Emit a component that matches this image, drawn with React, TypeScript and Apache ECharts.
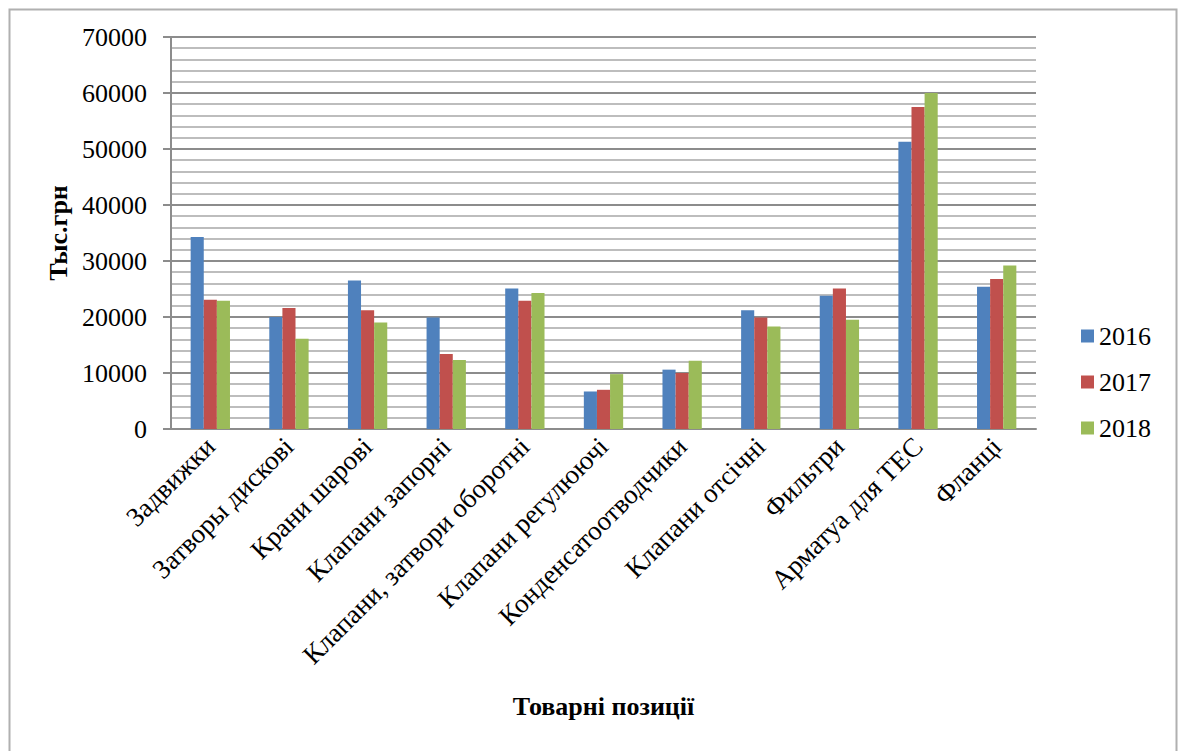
import React, { useEffect, useRef } from "react";
import * as echarts from "echarts";

const categories = [
  "Задвижки",
  "Затворы дискові",
  "Крани шарові",
  "Клапани запорні",
  "Клапани, затвори оборотні",
  "Клапани регулюючі",
  "Конденсатоотводчики",
  "Клапани отсічні",
  "Фильтри",
  "Арматуа для ТЕС",
  "Фланці",
];

const values2016 = [34300, 20000, 26500, 19900, 25100, 6700, 10600, 21200, 23800, 51300, 25400];
const values2017 = [23100, 21600, 21200, 13400, 22900, 7000, 10000, 19900, 25100, 57500, 26800];
const values2018 = [22900, 16100, 19000, 12300, 24300, 9800, 12200, 18300, 19500, 60000, 29200];

const seriesNames = ["2016", "2017", "2018"];
const seriesColors = ["#4F81BD", "#C0504D", "#9BBB59"];

const FONT = "Liberation Serif";

export default function App() {
  const ref = useRef<HTMLDivElement>(null);

  useEffect(() => {
    if (!ref.current) return;
    const chart = echarts.init(ref.current, null, { renderer: "svg" });
    const data = [values2016, values2017, values2018];
    chart.setOption({
      animation: false,
      backgroundColor: "#ffffff",
      textStyle: { fontFamily: FONT, color: "#000" },
      graphic: [
        {
          type: "rect",
          shape: { x: 9.5, y: 9.5, width: 1167, height: 760 },
          style: { fill: "none", stroke: "#b0b0b0", lineWidth: 2 },
          silent: true,
        },
      ],
      grid: { left: 171, right: 148, top: 37, bottom: 322, containLabel: false },
      legend: {
        orient: "vertical",
        left: 1076,
        top: 318,
        itemWidth: 13,
        itemHeight: 13,
        itemGap: 20,
        icon: "rect",
        textStyle: { fontFamily: FONT, fontSize: 26, color: "#000" },
        data: seriesNames,
      },
      xAxis: {
        type: "category",
        data: categories,
        name: "Товарні позиції",
        nameLocation: "middle",
        nameGap: 264,
        nameTextStyle: { fontFamily: FONT, fontSize: 26, fontWeight: "bold", color: "#000" },
        axisLine: { lineStyle: { color: "#8c8c8c", width: 2 } },
        axisTick: { show: false },
        axisLabel: {
          interval: 0,
          rotate: 45,
          margin: 13,
          fontFamily: FONT,
          fontSize: 27,
          color: "#000",
        },
      },
      yAxis: {
        type: "value",
        min: 0,
        max: 70000,
        interval: 10000,
        name: "Тыс.грн",
        nameLocation: "middle",
        nameGap: 100,
        nameTextStyle: { fontFamily: FONT, fontSize: 26, fontWeight: "bold", color: "#000" },
        axisLine: { show: true, lineStyle: { color: "#8c8c8c", width: 2 } },
        axisTick: { show: true, inside: false, length: 8, lineStyle: { color: "#8c8c8c", width: 2 } },
        axisLabel: {
          margin: 24,
          fontFamily: FONT,
          fontSize: 26,
          color: "#000",
          formatter: (v: number) => String(v),
        },
        splitLine: { show: true, lineStyle: { color: "#8c8c8c", width: 2 } },
        minorTick: { show: false, splitNumber: 5 },
        minorSplitLine: { show: true, lineStyle: { color: "#bdbdbd", width: 2 } },
      },
      series: seriesNames.map((name, i) => ({
        name,
        type: "bar",
        data: data[i],
        barGap: "0%",
        barCategoryGap: "50%",
        itemStyle: { color: seriesColors[i] },
      })),
    });
    return () => chart.dispose();
  }, []);

  return (
    <div
      ref={ref}
      style={{ position: "fixed", left: 0, top: 0, width: 1184, height: 751, background: "#fff" }}
    />
  );
}
